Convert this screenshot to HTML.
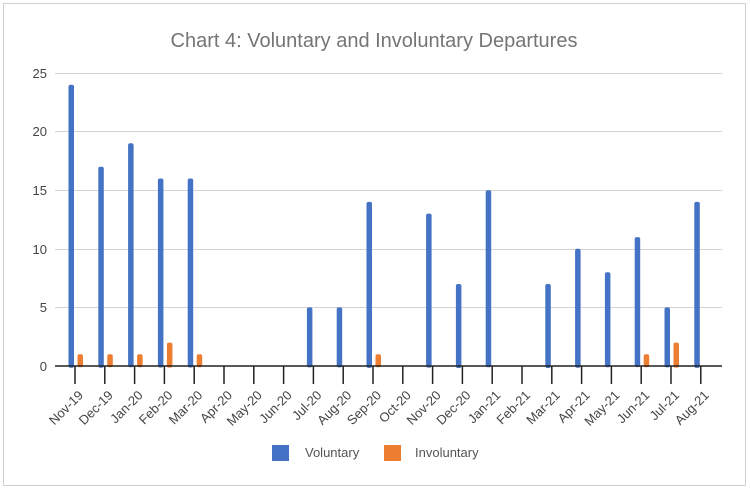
<!DOCTYPE html><html><head><meta charset="utf-8"><style>body{margin:0;background:#fff}svg{display:block}</style></head><body>
<svg width="750" height="491" xmlns="http://www.w3.org/2000/svg" font-family="Liberation Sans, sans-serif">
<rect x="0" y="0" width="750" height="491" fill="#fff"/>
<rect x="3.5" y="3.5" width="742" height="482" fill="none" stroke="#d0d0d0"/>
<text x="374" y="47" text-anchor="middle" font-size="20" fill="#757575">Chart 4: Voluntary and Involuntary Departures</text>
<g stroke="#d4d4d4" stroke-width="1">
<line x1="55" x2="722" y1="73.5" y2="73.5"/><line x1="55" x2="722" y1="131.5" y2="131.5"/><line x1="55" x2="722" y1="190.5" y2="190.5"/><line x1="55" x2="722" y1="249.5" y2="249.5"/><line x1="55" x2="722" y1="307.5" y2="307.5"/>
</g>
<g font-size="13" fill="#444" text-anchor="end">
<text x="47" y="78">25</text><text x="47" y="136">20</text><text x="47" y="195">15</text><text x="47" y="254">10</text><text x="47" y="312">5</text><text x="47" y="371">0</text>
</g>
<g fill="#4472c4">
<rect x="68.5" y="84.7" width="5.5" height="283" rx="2"/>
<rect x="98.3" y="166.8" width="5.5" height="201" rx="2"/>
<rect x="128.1" y="143.3" width="5.5" height="224" rx="2"/>
<rect x="157.9" y="178.5" width="5.5" height="189" rx="2"/>
<rect x="187.7" y="178.5" width="5.5" height="189" rx="2"/>
<rect x="306.9" y="307.4" width="5.5" height="60" rx="2"/>
<rect x="336.7" y="307.4" width="5.5" height="60" rx="2"/>
<rect x="366.5" y="201.9" width="5.5" height="166" rx="2"/>
<rect x="426.1" y="213.6" width="5.5" height="154" rx="2"/>
<rect x="455.9" y="284" width="5.5" height="84" rx="2"/>
<rect x="485.7" y="190.2" width="5.5" height="177" rx="2"/>
<rect x="545.3" y="284" width="5.5" height="84" rx="2"/>
<rect x="575.1" y="248.8" width="5.5" height="119" rx="2"/>
<rect x="604.9" y="272.2" width="5.5" height="95" rx="2"/>
<rect x="634.7" y="237.1" width="5.5" height="130" rx="2"/>
<rect x="664.5" y="307.4" width="5.5" height="60" rx="2"/>
<rect x="694.3" y="201.9" width="5.5" height="166" rx="2"/>
</g>
<g fill="#ed7d31">
<rect x="77.5" y="354.3" width="5.5" height="13" rx="2"/>
<rect x="107.3" y="354.3" width="5.5" height="13" rx="2"/>
<rect x="137.1" y="354.3" width="5.5" height="13" rx="2"/>
<rect x="166.9" y="342.6" width="5.5" height="25" rx="2"/>
<rect x="196.7" y="354.3" width="5.5" height="13" rx="2"/>
<rect x="375.5" y="354.3" width="5.5" height="13" rx="2"/>
<rect x="643.7" y="354.3" width="5.5" height="13" rx="2"/>
<rect x="673.5" y="342.6" width="5.5" height="25" rx="2"/>
</g>
<line x1="55" x2="722" y1="366" y2="366" stroke="#222" stroke-width="1.5"/>
<g stroke="#222" stroke-width="1.5">
<line x1="75" x2="75" y1="366" y2="384"/><line x1="104.8" x2="104.8" y1="366" y2="384"/><line x1="134.6" x2="134.6" y1="366" y2="384"/><line x1="164.4" x2="164.4" y1="366" y2="384"/><line x1="194.2" x2="194.2" y1="366" y2="384"/><line x1="224" x2="224" y1="366" y2="384"/><line x1="253.8" x2="253.8" y1="366" y2="384"/><line x1="283.6" x2="283.6" y1="366" y2="384"/><line x1="313.4" x2="313.4" y1="366" y2="384"/><line x1="343.2" x2="343.2" y1="366" y2="384"/><line x1="373" x2="373" y1="366" y2="384"/><line x1="402.8" x2="402.8" y1="366" y2="384"/><line x1="432.6" x2="432.6" y1="366" y2="384"/><line x1="462.4" x2="462.4" y1="366" y2="384"/><line x1="492.2" x2="492.2" y1="366" y2="384"/><line x1="522" x2="522" y1="366" y2="384"/><line x1="551.8" x2="551.8" y1="366" y2="384"/><line x1="581.6" x2="581.6" y1="366" y2="384"/><line x1="611.4" x2="611.4" y1="366" y2="384"/><line x1="641.2" x2="641.2" y1="366" y2="384"/><line x1="671" x2="671" y1="366" y2="384"/><line x1="700.8" x2="700.8" y1="366" y2="384"/>
</g>
<g font-size="13" fill="#444" text-anchor="end">
<text transform="translate(84,396) rotate(-45)">Nov-19</text>
<text transform="translate(113.8,396) rotate(-45)">Dec-19</text>
<text transform="translate(143.6,396) rotate(-45)">Jan-20</text>
<text transform="translate(173.4,396) rotate(-45)">Feb-20</text>
<text transform="translate(203.2,396) rotate(-45)">Mar-20</text>
<text transform="translate(233,396) rotate(-45)">Apr-20</text>
<text transform="translate(262.8,396) rotate(-45)">May-20</text>
<text transform="translate(292.6,396) rotate(-45)">Jun-20</text>
<text transform="translate(322.4,396) rotate(-45)">Jul-20</text>
<text transform="translate(352.2,396) rotate(-45)">Aug-20</text>
<text transform="translate(382,396) rotate(-45)">Sep-20</text>
<text transform="translate(411.8,396) rotate(-45)">Oct-20</text>
<text transform="translate(441.6,396) rotate(-45)">Nov-20</text>
<text transform="translate(471.4,396) rotate(-45)">Dec-20</text>
<text transform="translate(501.2,396) rotate(-45)">Jan-21</text>
<text transform="translate(531,396) rotate(-45)">Feb-21</text>
<text transform="translate(560.8,396) rotate(-45)">Mar-21</text>
<text transform="translate(590.6,396) rotate(-45)">Apr-21</text>
<text transform="translate(620.4,396) rotate(-45)">May-21</text>
<text transform="translate(650.2,396) rotate(-45)">Jun-21</text>
<text transform="translate(680,396) rotate(-45)">Jul-21</text>
<text transform="translate(709.8,396) rotate(-45)">Aug-21</text>
</g>
<rect x="272" y="445" width="17" height="16" fill="#4472c4"/>
<text x="305" y="457" font-size="13" fill="#555">Voluntary</text>
<rect x="384" y="445" width="17" height="16" fill="#ed7d31"/>
<text x="415" y="457" font-size="13" fill="#555">Involuntary</text>
</svg></body></html>
